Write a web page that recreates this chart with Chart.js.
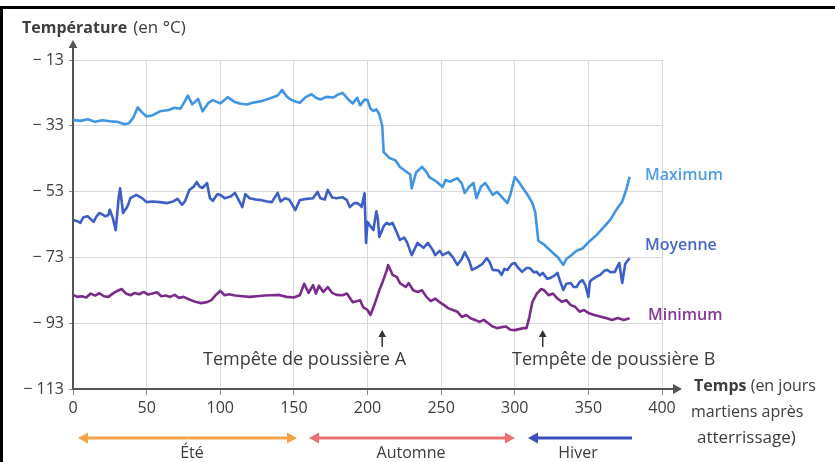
<!DOCTYPE html>
<html lang="fr">
<head>
<meta charset="utf-8">
<title>Températures martiennes</title>
<script src="https://cdn.jsdelivr.net/npm/chart.js@4.4.1/dist/chart.umd.min.js"></script>
<style>
    html, body { margin: 0; padding: 0; background: #fff; }
    canvas { display: block; }
</style>
</head>
<body>
<canvas id="tempChart" width="835" height="462"></canvas>
<script>
// Graduations des axes
const joursTicks = [0, 50, 100, 150, 200, 250, 300, 350, 400];
const tempTicks = [-113, -93, -73, -53, -33, -13];

// Température maximale
const maxJours = [0, 5, 10, 15, 20, 25, 30, 35, 38, 41, 44, 47, 50, 54, 59, 65, 69, 73, 76, 78,
    81, 85, 88, 92, 95, 100, 105, 110, 113, 118, 122, 128, 134, 139, 142, 145, 147, 151, 154, 158,
    162, 165, 168, 172, 177, 180, 183, 187, 190, 193, 195, 198, 200, 202, 204, 206, 208, 210, 211, 215,
    219, 222, 225, 229, 230, 233, 237, 240, 242, 247, 251, 253, 256, 261, 264, 266, 269, 272, 274, 277,
    280, 283, 285, 288, 291, 295, 297, 300, 303, 305, 308, 312, 314, 316, 319, 322, 326, 329, 333, 335,
    338, 342, 346, 351, 356, 360, 365, 369, 373, 376, 378];
const maxTemp = [-31.2, -31.5, -31.0, -31.8, -31.3, -31.6, -31.8, -32.5, -32.2, -30.5, -27.4, -29.0, -30.2, -29.8, -28.6, -28.2, -27.5, -27.8, -25.5, -23.8,
    -26.5, -24.8, -28.6, -26.0, -25.2, -26.2, -24.3, -25.8, -26.2, -26.5, -26.0, -25.5, -24.6, -23.8, -22.1, -24.0, -24.8, -25.6, -26.0, -24.3,
    -23.4, -24.5, -25.0, -24.2, -24.4, -23.5, -23.0, -25.0, -26.2, -24.5, -26.8, -25.0, -25.2, -27.8, -28.5, -28.0, -29.5, -33.0, -41.0, -42.8,
    -43.5, -45.5, -46.5, -47.8, -52.0, -47.2, -45.5, -47.0, -48.6, -50.0, -51.6, -49.5, -50.0, -48.9, -50.5, -53.4, -51.5, -50.4, -55.0, -51.5,
    -50.4, -52.5, -54.0, -53.1, -54.5, -56.5, -54.0, -48.6, -50.2, -51.6, -53.5, -56.5, -59.5, -68.0, -68.8, -70.0, -71.7, -72.8, -75.3, -73.5,
    -72.5, -71.0, -70.3, -68.0, -66.0, -64.0, -61.5, -58.5, -56.0, -52.0, -48.5];

// Température moyenne
const moyJours = [0, 3, 5, 7, 10, 14, 16, 18, 22, 24, 25, 27, 29, 31, 32, 34, 37, 39, 43, 47,
    50, 54, 59, 64, 68, 71, 74, 76, 79, 82, 84, 86, 88, 91, 93, 95, 98, 100, 103, 107,
    110, 113, 115, 117, 120, 124, 128, 132, 135, 139, 141, 144, 147, 151, 154, 159, 163, 166, 168, 171,
    173, 176, 179, 183, 186, 188, 191, 193, 195, 196, 198, 199, 200, 202, 204, 206, 207, 208, 211, 213,
    215, 217, 220, 222, 225, 227, 230, 234, 238, 241, 244, 246, 249, 251, 255, 258, 261, 264, 266, 269,
    271, 275, 278, 281, 283, 285, 289, 291, 293, 295, 298, 300, 302, 305, 308, 310, 313, 315, 317, 319,
    322, 324, 327, 329, 331, 333, 335, 338, 340, 342, 344, 346, 348, 350, 351, 352, 355, 358, 361, 363,
    365, 368, 370, 371, 373, 375, 376, 378];
const moyTemp = [-61.6, -62.0, -62.5, -60.8, -60.5, -62.2, -60.5, -59.5, -60.5, -60.1, -58.5, -61.0, -64.7, -55.0, -52.0, -59.5, -57.5, -55.0, -54.0, -55.0,
    -56.2, -56.0, -56.2, -56.5, -56.0, -55.2, -57.0, -56.0, -52.5, -51.5, -50.1, -51.5, -51.9, -50.4, -55.0, -55.8, -53.8, -54.0, -55.0, -54.5,
    -53.4, -56.0, -57.7, -53.8, -55.0, -55.4, -55.6, -56.0, -56.2, -53.4, -56.0, -55.0, -55.5, -58.6, -55.6, -55.2, -55.0, -53.1, -55.0, -55.4,
    -52.5, -54.8, -55.0, -54.7, -55.6, -57.7, -56.5, -56.5, -57.1, -57.7, -53.5, -68.6, -62.2, -63.5, -64.7, -59.0, -61.0, -66.8, -63.5, -62.5,
    -63.0, -62.5, -65.5, -67.7, -67.0, -68.6, -72.3, -68.6, -70.1, -68.6, -70.5, -72.3, -71.0, -72.3, -71.4, -73.0, -75.3, -73.5, -71.4, -74.0,
    -76.8, -75.9, -75.0, -73.2, -74.5, -76.8, -77.0, -78.3, -76.5, -76.8, -75.0, -74.7, -76.0, -77.4, -76.2, -76.2, -77.5, -77.4, -78.5, -77.7,
    -79.5, -79.3, -78.5, -77.7, -80.5, -82.9, -81.0, -80.8, -82.0, -82.0, -80.5, -79.9, -81.5, -85.0, -80.5, -79.9, -79.0, -78.3, -77.0, -76.8,
    -77.5, -77.4, -75.5, -74.7, -80.8, -75.0, -74.4, -73.2];

// Température minimale
const minJours = [0, 3, 6, 9, 12, 15, 18, 21, 24, 27, 30, 33, 36, 39, 42, 45, 48, 51, 54, 57,
    60, 63, 66, 69, 72, 75, 79, 83, 87, 91, 94, 97, 100, 103, 106, 110, 115, 120, 125, 130,
    135, 140, 145, 150, 154, 157, 160, 163, 165, 167, 170, 173, 176, 179, 183, 186, 190, 195, 197, 200,
    202, 205, 208, 210, 213, 214, 217, 220, 222, 226, 228, 231, 234, 237, 240, 243, 246, 249, 252, 255,
    258, 261, 264, 267, 270, 273, 276, 279, 282, 285, 288, 291, 294, 297, 300, 303, 306, 308, 310, 312,
    315, 318, 320, 323, 326, 329, 332, 335, 338, 341, 344, 347, 350, 354, 358, 362, 366, 370, 374, 378];
const minTemp = [-84.4, -85.0, -84.8, -85.2, -84.0, -84.6, -83.9, -84.8, -85.0, -84.0, -83.2, -82.6, -84.0, -84.5, -83.8, -84.2, -83.5, -84.3, -84.0, -83.6,
    -84.8, -84.6, -85.0, -84.4, -85.3, -85.0, -85.8, -86.5, -86.9, -86.6, -86.0, -84.4, -83.2, -84.5, -84.2, -84.6, -84.8, -85.0, -84.8, -84.6,
    -84.5, -84.4, -85.0, -85.2, -84.5, -81.0, -83.8, -81.4, -84.0, -81.6, -83.5, -82.0, -83.8, -84.4, -84.5, -84.0, -86.6, -86.0, -88.1, -89.0,
    -90.5, -87.0, -83.0, -80.8, -77.0, -75.3, -78.3, -79.0, -80.8, -82.0, -80.8, -83.0, -83.5, -83.0, -85.0, -86.3, -85.5, -86.6, -87.5, -88.5,
    -89.0, -89.5, -91.1, -90.5, -91.5, -92.0, -92.6, -92.0, -93.0, -94.0, -94.5, -94.2, -94.0, -95.0, -95.1, -94.8, -94.5, -94.5, -91.0, -86.5,
    -84.0, -82.6, -83.0, -84.5, -84.0, -85.5, -86.5, -86.0, -87.5, -88.0, -89.5, -89.0, -89.9, -90.5, -91.0, -91.4, -92.0, -91.4, -92.0, -91.5];

const police = '"Open Sans", "DejaVu Sans", sans-serif';
const gris = '#3c3c3c';

const toPoints = (jours, temps) => jours.map((j, i) => ({ x: j, y: temps[i] }));

const serie = (label, jours, temps, couleur) => ({
    label: label,
    data: toPoints(jours, temps),
    borderColor: couleur,
    borderWidth: 2.6,
    pointRadius: 0,
    tension: 0,
    borderJoinStyle: 'round',
    fill: false
});

// Flèche pleine (pointe en x2, y2)
function fleche(ctx, x1, y1, x2, y2, couleur, largeur, tete) {
    const a = Math.atan2(y2 - y1, x2 - x1);
    ctx.save();
    ctx.strokeStyle = couleur;
    ctx.fillStyle = couleur;
    ctx.lineWidth = largeur;
    ctx.beginPath();
    ctx.moveTo(x1, y1);
    ctx.lineTo(x2 - Math.cos(a) * tete * 0.8, y2 - Math.sin(a) * tete * 0.8);
    ctx.stroke();
    ctx.beginPath();
    ctx.moveTo(x2, y2);
    ctx.lineTo(x2 - tete * Math.cos(a) + tete * 0.55 * Math.sin(a), y2 - tete * Math.sin(a) - tete * 0.55 * Math.cos(a));
    ctx.lineTo(x2 - tete * Math.cos(a) - tete * 0.55 * Math.sin(a), y2 - tete * Math.sin(a) + tete * 0.55 * Math.cos(a));
    ctx.closePath();
    ctx.fill();
    ctx.restore();
}

// Textes, flèches des axes, tempêtes et saisons
const decorPlugin = {
    id: 'decor',
    afterDraw(chart) {
        const ctx = chart.ctx;
        const area = chart.chartArea;
        const xs = chart.scales.x;

        // cadre
        ctx.save();
        ctx.fillStyle = '#000';
        ctx.fillRect(0, 6, 835, 3);
        ctx.fillRect(0, 6, 3, 462);
        ctx.restore();

        // prolongement des axes
        fleche(ctx, area.left, area.top, area.left, 40, '#555', 2, 8);
        fleche(ctx, area.right, area.bottom, 682, area.bottom, '#555', 2, 9);

        ctx.save();
        ctx.textBaseline = 'middle';
        ctx.textAlign = 'left';

        // titre de l'axe vertical
        ctx.fillStyle = gris;
        ctx.font = 'bold 16px ' + police;
        ctx.fillText('Température', 22, 28);
        let w = ctx.measureText('Température ').width;
        ctx.font = '17px ' + police;
        ctx.fillText('(en °C)', 24 + w, 28);

        // titre de l'axe horizontal
        ctx.font = 'bold 16px ' + police;
        ctx.fillText('Temps', 694, 386);
        w = ctx.measureText('Temps ').width;
        ctx.font = '16px ' + police;
        ctx.fillText('(en jours', 694 + w, 386);
        ctx.fillText('martiens après', 691, 412);
        ctx.font = '17px ' + police;
        ctx.fillText('atterrissage)', 697, 438);

        // noms des courbes
        ctx.font = '600 16px ' + police;
        ctx.fillStyle = '#4a9de6';
        ctx.fillText('Maximum', 645, 175);
        ctx.fillStyle = '#4766c6';
        ctx.fillText('Moyenne', 645, 245);
        ctx.fillStyle = '#853a94';
        ctx.fillText('Minimum', 648, 315);

        // tempêtes de poussière
        const xa = xs.getPixelForValue(210);
        const xb = xs.getPixelForValue(319);
        fleche(ctx, xa, 347, xa, 330, '#333', 1.5, 7);
        fleche(ctx, xb, 347, xb, 330, '#333', 1.5, 7);
        ctx.font = '18px ' + police;
        ctx.fillStyle = gris;
        ctx.fillText('Tempête de poussière A', 203, 360);
        ctx.fillText('Tempête de poussière B', 512, 360);

        // saisons
        const saisons = [
            { nom: 'Été', x1: 78, x2: 297, couleur: '#f2a446', deux: true, tx: 192 },
            { nom: 'Automne', x1: 309, x2: 515, couleur: '#ec7070', deux: true, tx: 411 },
            { nom: 'Hiver', x1: 528, x2: 632, couleur: '#3d4fc0', deux: false, tx: 578 }
        ];
        saisons.forEach(s => {
            const mid = (s.x1 + s.x2) / 2;
            fleche(ctx, mid, 438, s.x1, 438, s.couleur, 3, 10);
            if (s.deux) {
                fleche(ctx, mid, 438, s.x2, 438, s.couleur, 3, 10);
            } else {
                ctx.strokeStyle = s.couleur;
                ctx.lineWidth = 3;
                ctx.beginPath();
                ctx.moveTo(mid, 438);
                ctx.lineTo(s.x2, 438);
                ctx.stroke();
            }
            ctx.fillStyle = gris;
            ctx.font = '16px ' + police;
            ctx.textAlign = 'center';
            ctx.fillText(s.nom, s.tx, 453);
        });
        ctx.restore();
    }
};

const ctx = document.getElementById('tempChart').getContext('2d');
new Chart(ctx, {
    type: 'line',
    data: {
        datasets: [
            serie('Maximum', maxJours, maxTemp, '#3f95e4'),
            serie('Moyenne', moyJours, moyTemp, '#3b5fc6'),
            serie('Minimum', minJours, minTemp, '#7a2c8a')
        ]
    },
    options: {
        responsive: false,
        animation: false,
        layout: { padding: { top: 60, right: 173, left: 0, bottom: 0 } },
        plugins: {
            legend: { display: false },
            tooltip: { enabled: false }
        },
        scales: {
            x: {
                type: 'linear',
                min: 0,
                max: 400,
                afterBuildTicks: s => { s.ticks = joursTicks.map(v => ({ value: v })); },
                afterFit: s => { s.height = 73; },
                ticks: {
                    color: gris,
                    padding: 4,
                    maxRotation: 0,
                    font: { family: police, size: 16 }
                },
                grid: { color: '#d9d9d9', lineWidth: 1, tickColor: '#888', tickLength: 6 },
                border: { color: '#555', width: 2 }
            },
            y: {
                type: 'linear',
                min: -113,
                max: -13,
                afterBuildTicks: s => { s.ticks = tempTicks.map(v => ({ value: v })); },
                afterFit: s => { s.width = 73; },
                ticks: {
                    color: gris,
                    padding: 5,
                    font: { family: police, size: 16 },
                    callback: v => '− ' + Math.abs(v)
                },
                grid: { color: '#d9d9d9', lineWidth: 1, tickColor: '#888', tickLength: 4 },
                border: { color: '#555', width: 2 }
            }
        }
    },
    plugins: [decorPlugin]
});
</script>
</body>
</html>
